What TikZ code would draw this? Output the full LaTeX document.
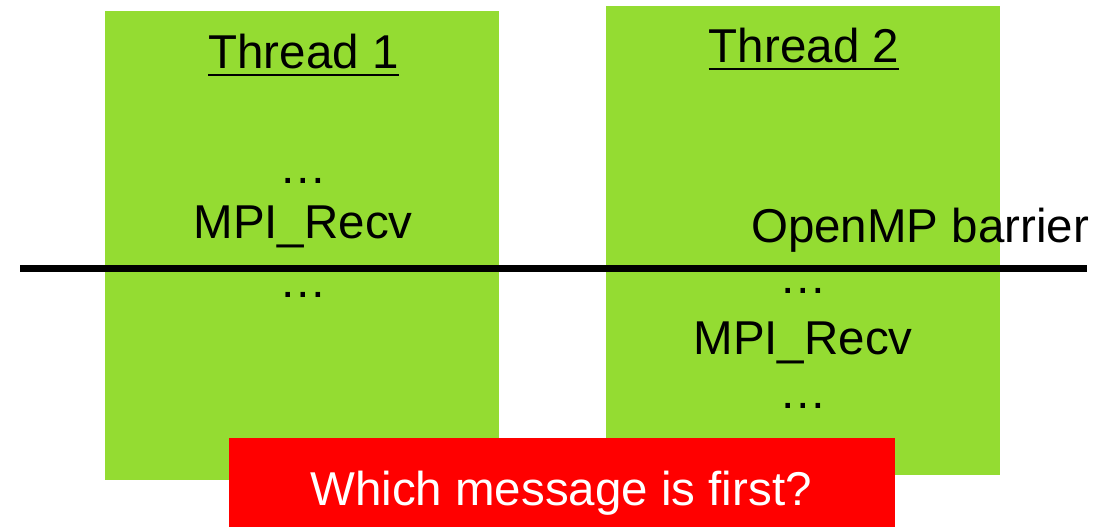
\documentclass[tikz,border=0pt]{standalone}
\usepackage{fontspec}
\setmainfont{Liberation Sans}
\definecolor{threadgreen}{RGB}{148,220,50}
\definecolor{askred}{RGB}{255,0,0}

\tikzset{
  thread box/.style={fill=threadgreen, inner sep=0pt, minimum width=394pt},
  ask box/.style={fill=askred, inner sep=0pt, minimum width=666pt, minimum height=89pt},
  code text/.style={anchor=base, inner sep=0pt, font=\fontsize{47.5}{57}\selectfont},
  barrier line/.style={line width=7pt},
  title line/.style={line width=2.6pt}
}

\begin{document}
\begin{tikzpicture}[x=1pt,y=-1pt]
\useasboundingbox (0,0) rectangle (1109,527);

% the two threads
\node[thread box, minimum height=469pt] (box1) at (302,245.5) {};
\node[thread box, minimum height=469pt] (box2) at (803,240.5) {};

% barrier
\coordinate (bl) at (20,268);
\coordinate (br) at (1087,268);
\draw[barrier line] (bl) -- (br);

% thread 1
\node[code text] (t1) at (303.5,69) {Thread 1};
\draw[title line] ([yshift=-6pt]t1.base west) -- ([yshift=-6pt]t1.base east);
\node[code text] (dots1a) at (303,183) {…};
\node[code text] (recv1) at (303,238) {MPI\_Recv};
\node[code text] (dots1b) at (303,297) {…};

% thread 2
\node[code text] (t2) at (804,63) {Thread 2};
\draw[title line] ([yshift=-6pt]t2.base west) -- ([yshift=-6pt]t2.base east);
\node[code text, anchor=base west] (barrier) at (751,242) {OpenMP barrier};
\node[code text] (dots2a) at (803,293) {…};
\node[code text] (recv2) at (803,354) {MPI\_Recv};
\node[code text] (dots2b) at (803,408) {…};

% question
\node[ask box] (ask) at (562,482.5) {};
\node[code text, text=white] (q) at (561,505) {Which message is first?};

\end{tikzpicture}
\end{document}
